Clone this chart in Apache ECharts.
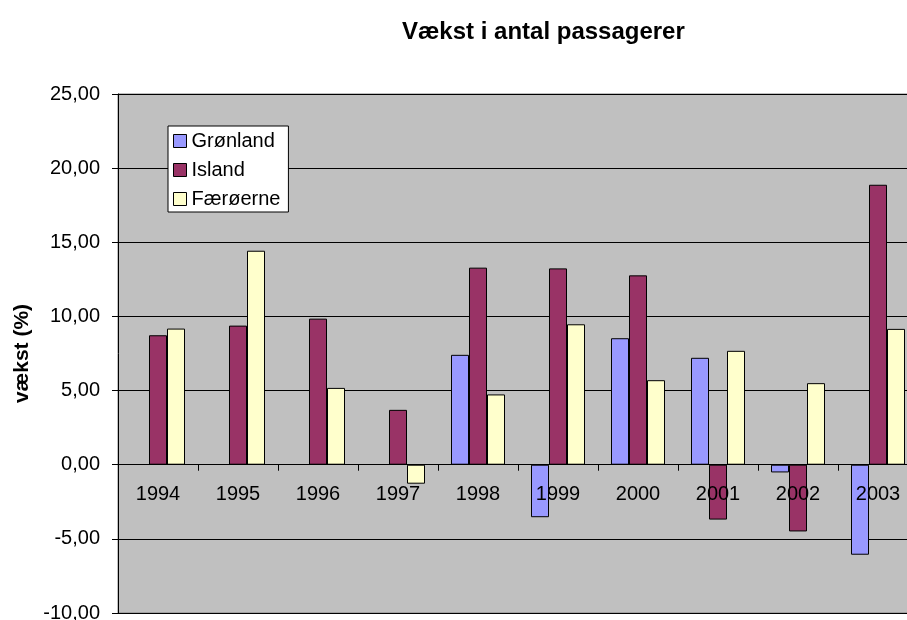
<!DOCTYPE html>
<html>
<head>
    <meta charset="utf-8">
    <title>Vækst i antal passagerer</title>
    <style>
        html, body { margin: 0; padding: 0; background: #fff; }
        #main { width: 907px; height: 620px; }
    </style>
</head>
<body>
    <div id="main"></div>
    <script src="https://cdn.jsdelivr.net/npm/echarts@6/dist/echarts.min.js"></script>
    <script type="text/javascript">

        const YEARS = ['1994', '1995', '1996', '1997', '1998', '1999', '2000', '2001', '2002', '2003'];
        const GRONLAND = [null, null, null, null, 7.41, -3.54, 8.53, 7.21, -0.52, -6.07];
        const ISLAND = [8.73, 9.38, 9.85, 3.70, 13.29, 13.24, 12.77, -3.70, -4.50, 18.88];
        const FAEROERNE = [9.18, 14.43, 5.18, -1.28, 4.74, 9.47, 5.70, 7.68, 5.50, 9.16];

        const Y_MIN = -10;
        const Y_MAX = 25;
        const GRID_H = 519;
        const FONT = 'Liberation Sans, Arial, sans-serif';

        // the category axis sits on the zero line, labels included
        const ZERO_OFFSET = -(0 - Y_MIN) / (Y_MAX - Y_MIN) * GRID_H;

        function makeSeries(name, data, color) {
            return {
                name: name,
                type: 'bar',
                data: data,
                barWidth: 18,
                barGap: '0%',
                itemStyle: {
                    color: color,
                    borderColor: '#000',
                    borderWidth: 1
                }
            };
        }

        let myChart = echarts.init(document.getElementById('main'));

        const option = {
            animation: false,
            backgroundColor: '#fff',
            title: {
                text: 'Vækst i antal passagerer',
                left: 397,
                top: 15,
                textStyle: {
                    fontFamily: FONT,
                    fontSize: 24,
                    fontWeight: 'bold',
                    color: '#000'
                }
            },
            legend: {
                orient: 'vertical',
                left: 168,
                top: 126,
                padding: [5, 8, 3, 5],
                itemGap: 9,
                itemWidth: 13,
                itemHeight: 13,
                icon: 'rect',
                backgroundColor: '#fff',
                borderColor: '#000',
                borderWidth: 1,
                borderRadius: 0,
                itemStyle: { borderColor: '#000', borderWidth: 1 },
                textStyle: {
                    fontFamily: FONT,
                    fontSize: 20,
                    lineHeight: 20,
                    color: '#000'
                },
                data: ['Grønland', 'Island', 'Færøerne']
            },
            grid: {
                left: 118,
                top: 94,
                width: 800,
                height: GRID_H,
                containLabel: false,
                outerBoundsMode: 'none',
                show: true,
                backgroundColor: '#c0c0c0',
                borderColor: '#808080',
                borderWidth: 1
            },
            xAxis: {
                type: 'category',
                data: YEARS,
                position: 'bottom',
                offset: ZERO_OFFSET,
                z: 5,
                axisLine: { onZero: false, lineStyle: { color: '#000', width: 1 } },
                axisTick: { show: true, inside: false, length: 6, lineStyle: { color: '#000' } },
                axisLabel: {
                    margin: 20,
                    fontFamily: FONT,
                    fontSize: 20,
                    color: '#000'
                },
                splitLine: { show: false }
            },
            yAxis: {
                type: 'value',
                min: Y_MIN,
                max: Y_MAX,
                interval: 5,
                name: 'vækst (%)',
                nameLocation: 'middle',
                nameGap: 84,
                nameTextStyle: {
                    fontFamily: FONT,
                    fontSize: 21,
                    fontWeight: 'bold',
                    color: '#000'
                },
                axisLine: { show: true, onZero: false, lineStyle: { color: '#000', width: 1 } },
                axisTick: { show: true, length: 6, lineStyle: { color: '#000' } },
                axisLabel: {
                    margin: 18,
                    fontFamily: FONT,
                    fontSize: 20,
                    color: '#000',
                    formatter: function (v) {
                        return v.toFixed(2).replace('.', ',');
                    }
                },
                splitLine: { show: true, lineStyle: { color: '#000', width: 1 } }
            },
            series: [
                makeSeries('Grønland', GRONLAND, '#9999ff'),
                makeSeries('Island', ISLAND, '#993366'),
                makeSeries('Færøerne', FAEROERNE, '#ffffcc')
            ]
        };

        myChart.setOption(option);

    </script>
</body>
</html>
